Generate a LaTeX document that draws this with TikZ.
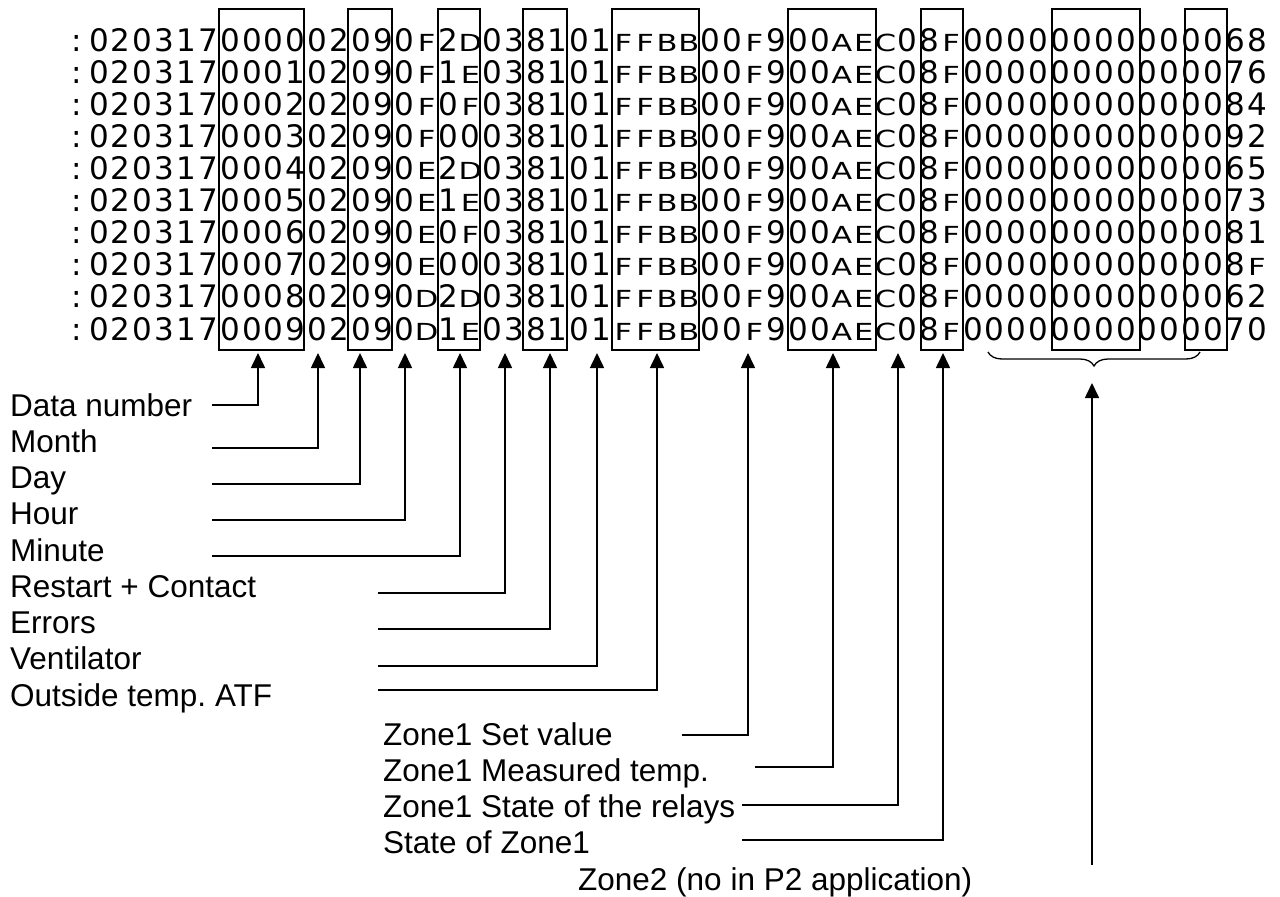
\documentclass[tikz,border=0pt]{standalone}
\usepackage{fontspec}
\setmainfont{Liberation Sans}
\newfontfamily\hexfont{DejaVu Sans}
\usetikzlibrary{arrows.meta,decorations.pathreplacing}
\frenchspacing

\newlength\hexcw \setlength\hexcw{21.85pt}
\def\hexend{\hexend}
\def\hexletter#1{\scalebox{1.3}[1]{\fontsize{23.5}{23.5}\selectfont#1}}
\def\hexcell#1{\makebox[\hexcw][c]{\ifcat#1a\hexletter{#1}\else#1\fi}}
\def\hexloop#1{\ifx#1\hexend\else\hexcell#1\expandafter\hexloop\fi}
\def\hexrow#1{\hexloop#1\hexend}

\tikzset{
  hexline/.style={anchor=base west, inner sep=0pt, font=\hexfont\fontsize{31}{31}\selectfont},
  hbox/.style={draw, line width=1.3pt, inner sep=0pt, minimum height=341pt},
  lab/.style={anchor=base west, inner sep=0pt, font=\fontsize{31.5}{36}\selectfont},
  arr/.style={line width=1.6pt, -{Triangle[length=15pt,width=14pt]}},
}

\begin{document}
\begin{tikzpicture}[x=1pt,y=-1pt]
\useasboundingbox (0,0) rectangle (1280,897);

% boxes
\node[hbox, minimum width=85pt] (b-num) at (261.5,179.5) {};
\node[hbox, minimum width=44pt] (b-day) at (370,179.5) {};
\node[hbox, minimum width=42pt] (b-min) at (459,179.5) {};
\node[hbox, minimum width=44pt] (b-err) at (545,179.5) {};
\node[hbox, minimum width=87pt] (b-atf) at (655.5,179.5) {};
\node[hbox, minimum width=88pt] (b-meas) at (832,179.5) {};
\node[hbox, minimum width=42pt] (b-state) at (942,179.5) {};
\node[hbox, minimum width=88pt] (b-z2a) at (1096,179.5) {};
\node[hbox, minimum width=42pt] (b-z2b) at (1206,179.5) {};

% data rows
\node[hexline] (r1) at (66,51.5) {\hexrow{:020317 0000 02 09 0F 2D 03 81 01 FFBB 00F9 00AE C0 8F 0000 0000 00 00 68}};
\node[hexline] (r2) at (66,83.6) {\hexrow{:020317 0001 02 09 0F 1E 03 81 01 FFBB 00F9 00AE C0 8F 0000 0000 00 00 76}};
\node[hexline] (r3) at (66,115.6) {\hexrow{:020317 0002 02 09 0F 0F 03 81 01 FFBB 00F9 00AE C0 8F 0000 0000 00 00 84}};
\node[hexline] (r4) at (66,147.7) {\hexrow{:020317 0003 02 09 0F 00 03 81 01 FFBB 00F9 00AE C0 8F 0000 0000 00 00 92}};
\node[hexline] (r5) at (66,179.7) {\hexrow{:020317 0004 02 09 0E 2D 03 81 01 FFBB 00F9 00AE C0 8F 0000 0000 00 00 65}};
\node[hexline] (r6) at (66,211.8) {\hexrow{:020317 0005 02 09 0E 1E 03 81 01 FFBB 00F9 00AE C0 8F 0000 0000 00 00 73}};
\node[hexline] (r7) at (66,243.8) {\hexrow{:020317 0006 02 09 0E 0F 03 81 01 FFBB 00F9 00AE C0 8F 0000 0000 00 00 81}};
\node[hexline] (r8) at (66,275.9) {\hexrow{:020317 0007 02 09 0E 00 03 81 01 FFBB 00F9 00AE C0 8F 0000 0000 00 00 8F}};
\node[hexline] (r9) at (66,307.9) {\hexrow{:020317 0008 02 09 0D 2D 03 81 01 FFBB 00F9 00AE C0 8F 0000 0000 00 00 62}};
\node[hexline] (r10) at (66,340) {\hexrow{:020317 0009 02 09 0D 1E 03 81 01 FFBB 00F9 00AE C0 8F 0000 0000 00 00 70}};

% labels
\node[lab] (l-num) at (10,416) {Data number};
\node[lab] (l-month) at (10,452) {Month};
\node[lab] (l-day) at (10,488.5) {Day};
\node[lab] (l-hour) at (10,524.5) {Hour};
\node[lab] (l-min) at (10,561) {Minute};
\node[lab] (l-rst) at (10,597) {Restart + Contact};
\node[lab] (l-err) at (10,633.5) {Errors};
\node[lab] (l-vent) at (10,669.5) {Ventilator};
\node[lab] (l-atf) at (10,706) {Outside temp. ATF};
\node[lab] (l-set) at (383,745) {Zone1 Set value};
\node[lab] (l-meas) at (383,781) {Zone1 Measured temp.};
\node[lab] (l-rel) at (383,817) {Zone1 State of the relays};
\node[lab] (l-state) at (383,853) {State of Zone1};
\node[lab] (l-z2) at (578,890) {Zone2 (no in P2 application)};

% connector ends
\coordinate (s-num) at (212,405);   \coordinate (t-num) at (258,353);
\coordinate (s-month) at (212,448); \coordinate (t-month) at (318,353);
\coordinate (s-day) at (212,484);   \coordinate (t-day) at (360,353);
\coordinate (s-hour) at (212,520);  \coordinate (t-hour) at (405,353);
\coordinate (s-min) at (212,556);   \coordinate (t-min) at (460,353);
\coordinate (s-rst) at (378,593);   \coordinate (t-rst) at (505,353);
\coordinate (s-err) at (378,629);   \coordinate (t-err) at (550,353);
\coordinate (s-vent) at (378,666);  \coordinate (t-vent) at (597,353);
\coordinate (s-atf) at (378,690);   \coordinate (t-atf) at (657,353);
\coordinate (s-set) at (682,735);   \coordinate (t-set) at (748,353);
\coordinate (s-meas) at (755,767);  \coordinate (t-meas) at (833,353);
\coordinate (s-rel) at (742,805);   \coordinate (t-rel) at (898,353);
\coordinate (s-state) at (742,840); \coordinate (t-state) at (943,353);
\coordinate (s-z2) at (1092,865);   \coordinate (t-z2) at (1092,383);

\foreach \k in {num,month,day,hour,min,rst,err,vent,atf,set,meas,rel,state,z2}
  \draw[arr] (s-\k) -| (t-\k);

% brace
\coordinate (br-a) at (988,352);
\coordinate (br-b) at (1200,352);
\draw[line width=1.3pt, decorate, decoration={brace, mirror, amplitude=14pt}] (br-a) -- (br-b);
\end{tikzpicture}
\end{document}
